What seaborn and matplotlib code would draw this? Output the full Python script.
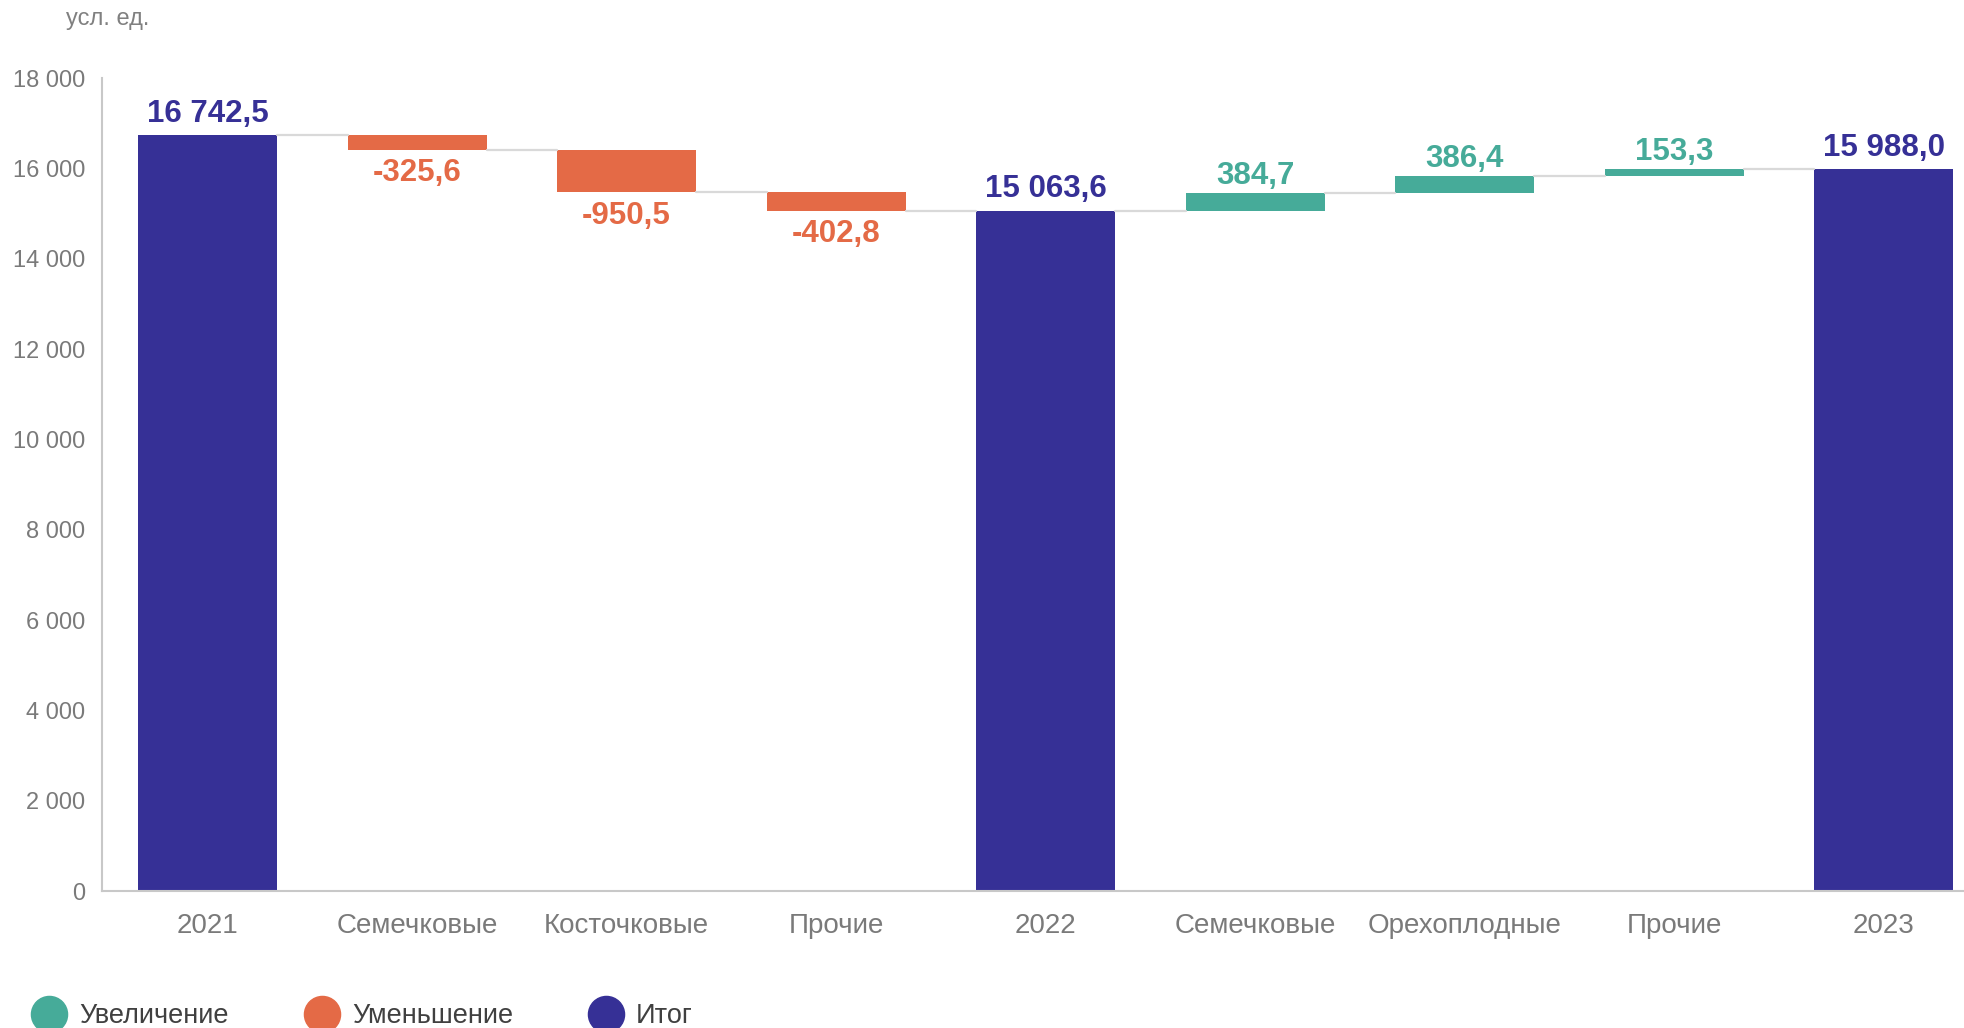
import numpy as np
import pandas as pd
import matplotlib
matplotlib.use("Agg")
import matplotlib.pyplot as plt
from matplotlib.lines import Line2D
from matplotlib.ticker import FuncFormatter
import seaborn as sns

# data
categories = ['2021', 'Семечковые', 'Косточковые', 'Прочие', '2022',
              'Семечковые', 'Орехоплодные', 'Прочие', '2023']
changes = [16742.5, -325.6, -950.5, -402.8, 15063.6, 384.7, 386.4, 153.3, 15988.0]
kinds = ['total', 'dec', 'dec', 'dec', 'total', 'inc', 'inc', 'inc', 'total']

kind_names = {'inc': 'Увеличение', 'dec': 'Уменьшение', 'total': 'Итог'}
colors = {'inc': '#46ab99', 'dec': '#e46a46', 'total': '#363096'}

sns.set_style('white')
plt.rcParams['font.family'] = ['Liberation Sans', 'DejaVu Sans']

# waterfall levels
bottoms, heights, levels = [], [], []
running = 0.0
for v, k in zip(changes, kinds):
    if k == 'total':
        bottoms.append(0.0)
        heights.append(v)
        running = v
    elif k == 'inc':
        bottoms.append(running)
        heights.append(v)
        running += v
    else:
        bottoms.append(running + v)
        heights.append(-v)
        running += v
    levels.append(running)

pos = [str(i) for i in range(len(categories))]
df = pd.DataFrame({'pos': pos, 'height': heights, 'bottom': bottoms, 'kind': kinds})

fig = plt.figure(figsize=(19.64, 10.28), dpi=100)
ax = fig.add_axes([102 / 1964, 1 - 891 / 1028, 1862 / 1964, (891 - 78) / 1028])

w = 0.663
for k in ['total', 'dec', 'inc']:
    sub = df[df['kind'] == k]
    sns.barplot(data=sub, x='pos', y='height', order=pos, color=colors[k],
                saturation=1, width=w, errorbar=None, linewidth=0,
                bottom=sub['bottom'].values, ax=ax)

# connector lines
for i in range(len(categories) - 1):
    ax.plot([i + w / 2, i + 1 - w / 2], [levels[i], levels[i]],
            color='#d9d9d9', lw=1.6, zorder=1)


def fmt_val(v):
    s = f"{abs(v):,.1f}".replace(',', ' ').replace('.', ',')
    return ('-' if v < 0 else '') + s


for i, (v, k) in enumerate(zip(changes, kinds)):
    top = bottoms[i] + heights[i]
    if k == 'dec':
        ax.annotate(fmt_val(v), (i, bottoms[i]), xytext=(0, -22.5), textcoords='offset points',
                    ha='center', va='baseline', fontsize=22.5, fontweight='bold', color=colors[k])
    else:
        off = 9.5 if k == 'total' else 6.5
        ax.annotate(fmt_val(v), (i, top), xytext=(0, off), textcoords='offset points',
                    ha='center', va='baseline', fontsize=22.5, fontweight='bold', color=colors[k])

ax.set_xlim(-0.504, 8.384)
ax.set_ylim(0, 18000)
ax.set_yticks(np.arange(0, 18001, 2000))
ax.yaxis.set_major_formatter(FuncFormatter(lambda y, p: f"{int(y):,}".replace(',', ' ')))
ax.set_xticks(range(len(categories)))
ax.set_xticklabels(categories)
ax.set_xlabel('')
ax.set_ylabel('')
ax.tick_params(axis='y', length=0, pad=12, labelsize=17, labelcolor='#7a7a7a')
ax.tick_params(axis='x', length=0, pad=15.5, labelsize=20, labelcolor='#7a7a7a')
for s in ['top', 'right']:
    ax.spines[s].set_visible(False)
for s in ['left', 'bottom']:
    ax.spines[s].set_color('#c8c8c8')
    ax.spines[s].set_linewidth(1.5)

fig.text(66 / 1964, 1 - 19 / 1028, 'усл. ед.', fontsize=17, color='#808080',
         ha='left', va='center')

handles = [Line2D([], [], marker='o', linestyle='', markersize=26,
                  markerfacecolor=colors[k], markeredgecolor=colors[k])
           for k in ['inc', 'dec', 'total']]
labels = [kind_names[k] for k in ['inc', 'dec', 'total']]
fig.legend(handles, labels, loc='center left', bbox_to_anchor=(33 / 1964, 12 / 1028),
           ncol=3, frameon=False, fontsize=19.5, borderpad=0, borderaxespad=0,
           handlelength=1.2, handletextpad=0.5, columnspacing=2.85, labelcolor='#404040')

fig.savefig('out.png', dpi=100)
